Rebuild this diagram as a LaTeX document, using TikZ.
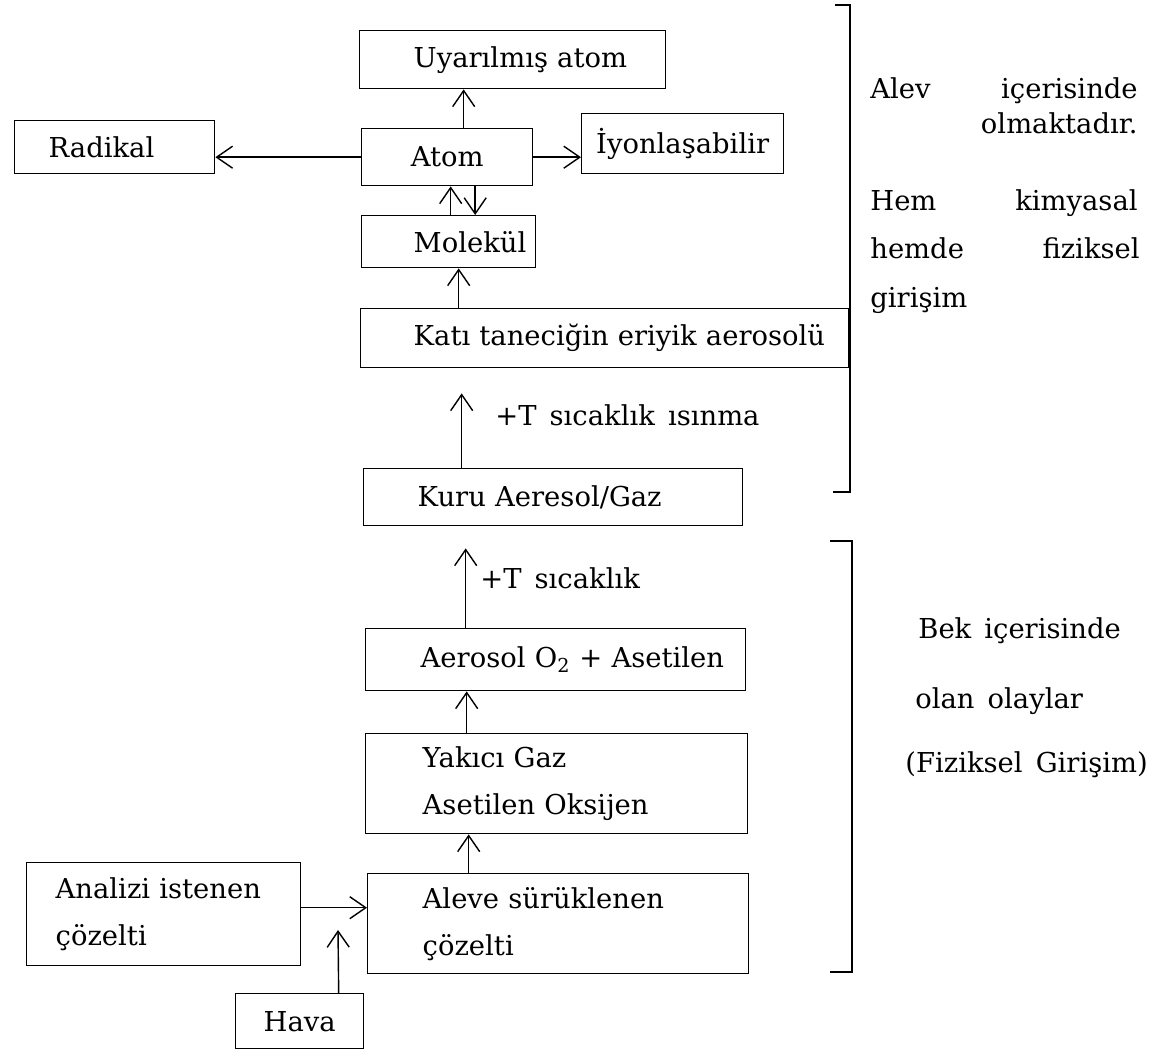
\documentclass[tikz,border=0pt]{standalone}
\usepackage{fontspec}
\setmainfont{DejaVu Serif}[WordSpace=1.5]
\usepackage{tikz}
\usetikzlibrary{positioning}
\usetikzlibrary{arrows.meta}

\begin{document}
\begin{tikzpicture}[x=0.02cm, y=-0.02cm,
   font=\fontsize{15.6}{26.7}\selectfont,
   ok/.style={-{Straight Barb[length=3.2mm,width=4.4mm]}}]
\useasboundingbox (0,0) rectangle (1166,1052);

\begin{scope}[every node/.style={draw, line width=0.8pt, anchor=north west,
                                 inner ysep=0pt, align=left}]
   \node[minimum width=6.12cm, minimum height=1.16cm, text width=3.96cm, inner xsep=1.08cm] (uyar) at (359,30) {Uyarılmış~atom};
   \node[minimum width=4cm, minimum height=1.06cm, text width=2.64cm, inner xsep=0.68cm] (radikal) at (14,120) {Radikal};
   \node[minimum width=3.42cm, minimum height=1.14cm] (atom) at (361,128) {Atom};
   \node[minimum width=4.04cm, minimum height=1.2cm] (iyon) at (581,113) {İyonlaşabilir};
   \node[minimum width=3.48cm, minimum height=1.04cm, text width=1.4cm, inner xsep=1.04cm] (molekul) at (361,215) {Molekül};
   \node[minimum width=9.76cm, minimum height=1.18cm, text width=7.64cm, inner xsep=1.06cm] (kati) at (360,308) {Katı~taneciğin~eriyik~aerosolü};
   \node[minimum width=7.58cm, minimum height=1.14cm, text width=5.42cm, inner xsep=1.08cm] (kuru) at (363,468) {Kuru~Aeresol/Gaz};
   \node[minimum width=7.6cm, minimum height=1.24cm, text width=5.4cm, inner xsep=1.1cm] (aerosol) at (365,628) {Aerosol~O\textsubscript{2}~+~Asetilen};
   \node[minimum width=7.64cm, minimum height=2cm, text width=5.36cm, inner xsep=1.14cm] (yakici) at (365,733) {Yakıcı Gaz\\Asetilen Oksijen};
   \node[minimum width=7.62cm, minimum height=2cm, text width=5.42cm, inner xsep=1.1cm] (aleve) at (367,873) {Aleve sürüklenen\\çözelti};
   \node[minimum width=5.48cm, minimum height=2.06cm, text width=4.32cm, inner xsep=0.58cm] (analiz) at (26,862) {Analizi istenen\\çözelti};
   \node[minimum width=2.56cm, minimum height=1.1cm] (hava) at (235,993) {Hava};
\end{scope}

\begin{scope}[every node/.style={inner sep=0pt}]
   \node[anchor=base west] (alev) at (870,98) {Alev};
   \node[anchor=base east] (icinde) at (1138,98) {içerisinde};
   \node[anchor=base east] (olmak) at (1138,133) {olmaktadır.};
   \node[anchor=base west] (hem) at (870,210) {Hem};
   \node[anchor=base east] (kimya) at (1138,210) {kimyasal};
   \node[anchor=base west] (hemde) at (870,258) {hemde};
   \node[anchor=base east] (fizik) at (1140,258) {fiziksel};
   \node[anchor=base west] (girisim) at (870,307) {girişim};

   \node[anchor=base west] (bek) at (918,638) {Bek içerisinde};
   \node[anchor=base west] (olan) at (915,708) {olan olaylar};
   \node[anchor=base west] (fgirisim) at (905,772) {(Fiziksel Girişim)};

   \node[anchor=base west] (isinma) at (495,425) {+T sıcaklık ısınma};
   \node[anchor=base west] (sicaklik) at (480,588) {+T sıcaklık};
\end{scope}

% brackets
\draw[line width=0.8pt] (835,5) -- (850,5) -- (850,492) -- (833,492);
\draw[line width=0.8pt] (830,541) -- (852,541) -- (852,972) -- (830,972);

\coordinate (havaucu) at (338,930);

\begin{scope}[every edge/.style={draw, line width=0.8pt}]
   \path [ok] ([xshift=0.33cm]atom.north) edge ([xshift=0.33cm]atom.north |- uyar.south);
   \path [ok] (atom.west) edge (radikal.east |- atom.west);
   \path [ok] (atom.east) edge (iyon.west |- atom.east);
   \path [ok] ([xshift=0.04cm]molekul.north) edge ([xshift=0.04cm]molekul.north |- atom.south);
   \path [ok] ([xshift=0.56cm]atom.south) edge ([xshift=0.56cm]atom.south |- molekul.north);
   \path [ok] ([xshift=0.2cm]molekul.south |- kati.north) edge ([xshift=0.2cm]molekul.south);
   \path [ok, shorten >=0.5cm] ([xshift=-1.83cm]kuru.north) edge ([xshift=-1.83cm]kuru.north |- kati.south);
   \path [ok, shorten >=0.44cm] ([xshift=-1.8cm]aerosol.north) edge ([xshift=-1.8cm]aerosol.north |- kuru.south);
   \path [ok] ([xshift=-1.8cm]yakici.north) edge ([xshift=-1.8cm]yakici.north |- aerosol.south);
   \path [ok] ([xshift=-1.79cm]aleve.north) edge ([xshift=-1.79cm]aleve.north |- yakici.south);
   \path [ok] ([yshift=0.13cm]analiz.east) edge ([yshift=0.13cm]analiz.east -| aleve.west);
   \path [ok] ([xshift=0.78cm]hava.north) edge (havaucu);
\end{scope}
\end{tikzpicture}
\end{document}
